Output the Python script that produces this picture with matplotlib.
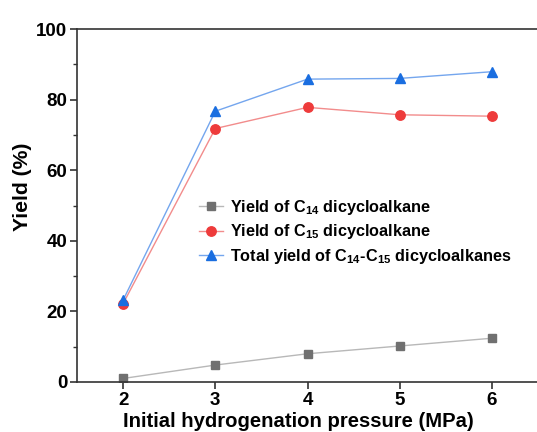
import matplotlib
matplotlib.use("Agg")
import matplotlib.pyplot as plt
from matplotlib.ticker import MultipleLocator

plt.rcParams['font.family'] = ['Liberation Sans', 'DejaVu Sans']
plt.rcParams['font.weight'] = 'bold'
plt.rcParams['mathtext.default'] = 'bf'
plt.rcParams['mathtext.fontset'] = 'custom'
plt.rcParams['mathtext.bf'] = 'Liberation Sans:bold'
plt.rcParams['mathtext.rm'] = 'Liberation Sans:bold'

pressure = [2, 3, 4, 5, 6]
yield_c14 = [1.0, 4.8, 8.0, 10.2, 12.4]
yield_c15 = [22.2, 71.8, 77.8, 75.7, 75.3]
yield_total = [23.2, 76.7, 85.8, 86.0, 87.9]
labels = ["Yield of C$_{14}$ dicycloalkane",
          "Yield of C$_{15}$ dicycloalkane",
          "Total yield of C$_{14}$-C$_{15}$ dicycloalkanes"]

fig = plt.figure(figsize=(5.37, 4.32), dpi=100)
ax = fig.add_axes([77/537, 1-382/432, (538-77)/537, (382-29)/432])

ax.plot(pressure, yield_c14, color='#b8b8b8', lw=1.0, marker='s', ms=5.5,
        mfc='#707070', mec='#707070', label=labels[0])
ax.plot(pressure, yield_c15, color='#f28c8c', lw=1.0, marker='o', ms=6.8,
        mfc='#ee3b3b', mec='#ee3b3b', label=labels[1])
ax.plot(pressure, yield_total, color='#74a6ee', lw=1.0, marker='^', ms=7.5,
        mfc='#1a6ee0', mec='#1a6ee0', label=labels[2])

ax.set_xlim(1.5, 6.5)
ax.set_ylim(0, 100)
ax.xaxis.set_major_locator(MultipleLocator(1))
ax.yaxis.set_major_locator(MultipleLocator(20))
ax.yaxis.set_minor_locator(MultipleLocator(10))
for s in ['left', 'bottom', 'top']:
    ax.spines[s].set_color('#333333')
    ax.spines[s].set_linewidth(1.2)
ax.spines['right'].set_visible(False)
ax.tick_params(axis='both', which='major', direction='out', length=5, width=1.2,
               labelsize=13.5, color='#333333', pad=2)
ax.tick_params(axis='y', which='minor', direction='out', length=3, width=1.0, color='#333333')
for t in ax.get_xticklabels() + ax.get_yticklabels():
    t.set_fontweight('bold')

ax.set_xlabel("Initial hydrogenation pressure (MPa)", fontsize=14.6, fontweight='bold')
ax.xaxis.set_label_coords(0.481, -0.085)
ax.set_ylabel("Yield (%)", fontsize=15.2, fontweight='bold')
ax.yaxis.set_label_coords(-0.098, 0.554)

leg = ax.legend(loc='upper left', bbox_to_anchor=(0.25, 0.54), frameon=False,
                fontsize=11.7, handlelength=1.5, handletextpad=0.45, labelspacing=0.33,
                borderaxespad=0)
for t in leg.get_texts():
    t.set_fontweight('bold')

fig.savefig("out.png", dpi=100)
